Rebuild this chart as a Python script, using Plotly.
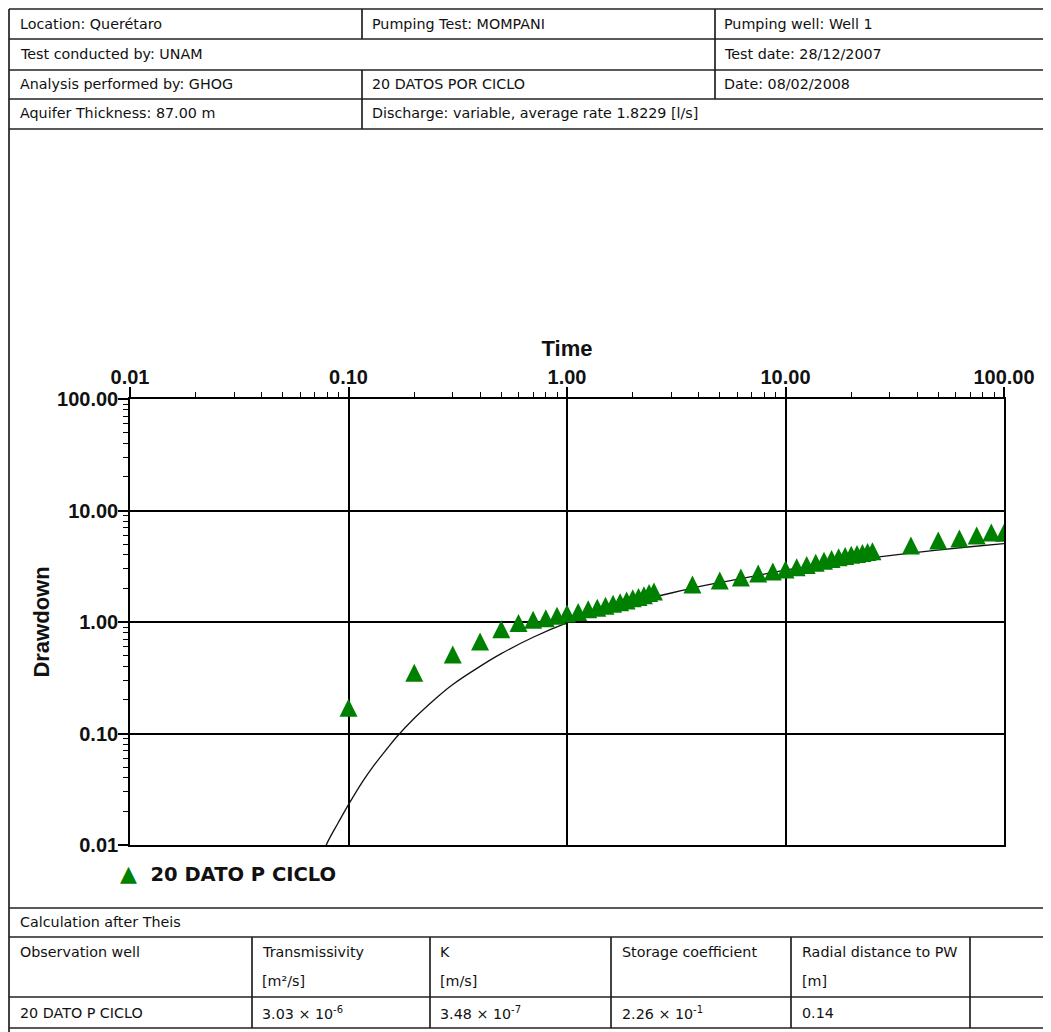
import plotly.graph_objects as go

W, H = 1051, 1032
OFF = 8  # the page body margin shifts the figure by this much

# observed drawdown, well "20 DATO P CICLO"
time_obs = [0.1, 0.2, 0.3, 0.4, 0.5, 0.6, 0.7, 0.8, 0.9, 1.0,
            1.125, 1.25, 1.375, 1.5, 1.625, 1.75, 1.875, 2.0, 2.125, 2.25, 2.375, 2.5,
            3.75, 5.0, 6.25, 7.5, 8.75, 10.0, 11.25, 12.5, 13.75, 15.0, 16.25, 17.5,
            18.75, 20.0, 21.25, 22.5, 23.75, 25.0,
            37.5, 50.0, 62.5, 75.0, 87.5, 100.0]
drawdown_obs = [0.17, 0.35, 0.51, 0.67, 0.86, 0.98, 1.05, 1.08, 1.14, 1.19,
                1.23, 1.30, 1.34, 1.40, 1.46, 1.50, 1.56, 1.63, 1.68, 1.74, 1.82, 1.88,
                2.17, 2.36, 2.51, 2.72, 2.84, 2.96, 3.10, 3.25, 3.40, 3.55, 3.68, 3.80,
                3.90, 4.00, 4.08, 4.16, 4.24, 4.32,
                4.85, 5.37, 5.60, 5.96, 6.34, 6.30]

# Theis type curve as drawn on the sheet
time_theis = [0.075, 0.08, 0.09, 0.1, 0.116, 0.13, 0.15, 0.166, 0.2, 0.25, 0.3, 0.4, 0.5,
              0.7, 1.0, 1.5, 2.0, 3.0, 4.4, 7.0, 10.0, 20.0, 28.0, 45.0, 70.0, 100.0]
drawdown_theis = [0.0075, 0.0105, 0.016, 0.023, 0.037, 0.051, 0.073, 0.093, 0.137, 0.205,
                  0.275, 0.40, 0.52, 0.73, 0.98, 1.28, 1.50, 1.82, 2.15, 2.55, 2.92, 3.55,
                  3.87, 4.33, 4.73, 5.05]

tick_vals = [0.01, 0.1, 1, 10, 100]
tick_text = ['0.01', '0.10', '1.00', '10.00', '100.00']

series_name = '20 DATO P CICLO'

header_rows = [
    ['Location: Querétaro', 'Pumping Test: MOMPANI', 'Pumping well: Well 1'],
    ['Test conducted by: UNAM', '', 'Test date: 28/12/2007'],
    ['Analysis performed by: GHOG', '20 DATOS POR CICLO', 'Date: 08/02/2008'],
    ['Aquifer Thickness: 87.00 m', 'Discharge: variable, average rate 1.8229 [l/s]', ''],
]
calc_title = 'Calculation after Theis'
calc_cols = ['Observation well', 'Transmissivity', 'K', 'Storage coefficient', 'Radial distance to PW']
calc_units = ['', '[m²/s]', '[m/s]', '', '[m]']
calc_values = ['20 DATO P CICLO', '3.03 × 10<sup>-6</sup>', '3.48 × 10<sup>-7</sup>',
               '2.26 × 10<sup>-1</sup>', '0.14']


def px(x):
    return (x - OFF) / W


def py(y):
    return 1 - (y - OFF) / H


fig = go.Figure()
fig.add_trace(go.Scatter(x=time_theis, y=drawdown_theis, mode='lines',
                         line=dict(color='#111', width=1.3, shape='spline', smoothing=1),
                         showlegend=False, hoverinfo='skip'))
fig.add_trace(go.Scatter(x=time_obs, y=drawdown_obs, mode='markers', name=series_name,
                         showlegend=False,
                         marker=dict(symbol='arrow-down', angle=180, standoff=9, size=18,
                                     color='#008000')))

tickfont = dict(family='Liberation Sans', size=20, color='#111', weight='bold')
titlefont = dict(family='Liberation Sans', size=22, color='#111', weight='bold')
axis_common = dict(type='log', range=[-2, 2], tickvals=tick_vals, ticktext=tick_text,
                   ticks='outside', ticklen=10, tickwidth=1.5, tickcolor='black',
                   showline=True, linecolor='black', linewidth=1.6, mirror=True,
                   showgrid=True, gridcolor='black', gridwidth=1.7, automargin=False,
                   minor=dict(ticks='outside', ticklen=5, tickwidth=1, tickcolor='black',
                              dtick='D1', showgrid=False),
                   tickfont=tickfont)

fig.update_layout(
    width=W, height=H,
    margin=dict(l=0, r=0, t=0, b=0, autoexpand=False),
    paper_bgcolor='white', plot_bgcolor='white',
    xaxis=dict(axis_common, side='top', domain=[px(130), px(1004)], ticklabelstandoff=-5,
               title=dict(text='Time', font=titlefont, standoff=4)),
    yaxis=dict(axis_common, domain=[py(845), py(399)], ticklabelstandoff=-4,
               title=dict(text='Drawdown', font=titlefont, standoff=1)),
    showlegend=False,
)

# page frame and table rules (pixel coordinates of the sheet)
lc = '#222'
rules = [
    (9, 9, 9, H + OFF), (9, 9, W + OFF, 9), (9, 39, W + OFF, 39), (9, 70, W + OFF, 70),
    (9, 99, W + OFF, 99), (9, 129, W + OFF, 129),
    (362, 9, 362, 39), (362, 70, 362, 129), (715, 9, 715, 99),
    (9, 908, W + OFF, 908), (9, 937, W + OFF, 937), (9, 997, W + OFF, 997),
    (9, 1028, W + OFF, 1028),
]
for cx in [252, 430, 611, 791, 970]:
    rules.append((cx, 937, cx, 1028))
for x0, y0, x1, y1 in rules:
    fig.add_shape(type='line', xref='paper', yref='paper',
                  x0=px(x0), y0=py(y0), x1=px(x1), y1=py(y1),
                  line=dict(color=lc, width=1.7))

tfont = dict(family='DejaVu Sans', size=14.3, color='#111')


def label(x, y, text, font=tfont):
    if text:
        fig.add_annotation(x=px(x), y=py(y), xref='paper', yref='paper', text=text,
                           showarrow=False, xanchor='left', yanchor='middle', font=font)


for row, yc in zip(header_rows, [24, 54, 84, 113]):
    for text, xc in zip(row, [18, 370, 722]):
        label(xc, yc, text)

label(18, 922, calc_title)
for i, xc in enumerate([18, 260, 438, 620, 800]):
    label(xc, 952, calc_cols[i])
    label(xc, 981, calc_units[i])
    label(xc, 1013, calc_values[i])

# legend entry under the plot
label(118, 873, '<span style="color:#008000;font-size:22px">▲</span>&nbsp; ' + series_name,
      font=dict(family='DejaVu Sans', size=19.5, color='#111', weight='bold'))

fig.write_html('out.html')
